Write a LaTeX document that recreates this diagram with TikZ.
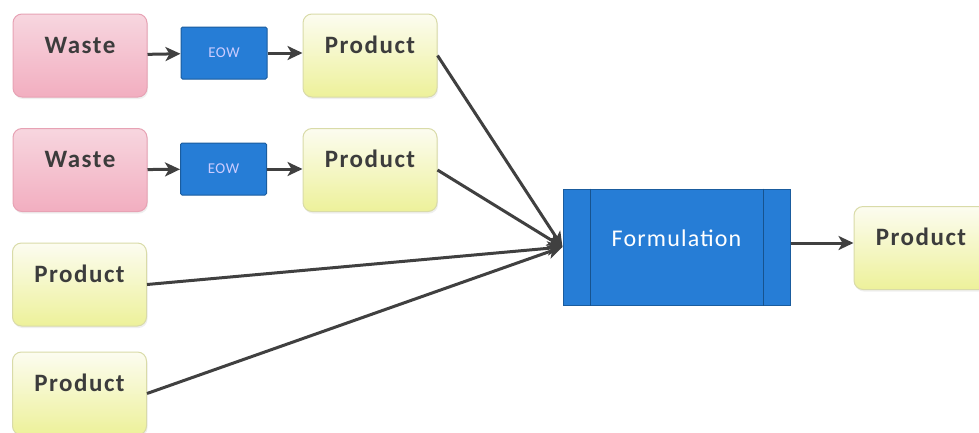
\documentclass[tikz,border=0pt]{standalone}
\usepackage{fontspec}
\setmainfont{Carlito}
\usetikzlibrary{arrows.meta,shadows}
\definecolor{ink}{HTML}{3C3C3C}
\definecolor{linegray}{HTML}{404040}
\definecolor{pinktop}{HTML}{F7D6DF}
\definecolor{pinkbot}{HTML}{F2AEC0}
\definecolor{pinkedge}{HTML}{E7A2B4}
\definecolor{yeltop}{HTML}{FCFCF0}
\definecolor{yelbot}{HTML}{EDF19A}
\definecolor{yeledge}{HTML}{D9DBA8}
\definecolor{bluefill}{HTML}{267DD6}
\definecolor{blueedge}{HTML}{1A5C9E}
\tikzset{
  box/.style={rounded corners=9pt, minimum width=134pt, inner sep=0pt,
    font=\fontsize{25}{28}\selectfont\bfseries\addfontfeature{LetterSpace=6}, text=ink, line width=1pt,
    text height=39pt, text depth=44pt,
    drop shadow={opacity=0.12, shadow xshift=1pt, shadow yshift=-2pt}},
  waste/.style={box, draw=pinkedge, top color=pinktop, bottom color=pinkbot},
  prod/.style={box, draw=yeledge, top color=yeltop, bottom color=yelbot},
  eow/.style={draw=blueedge, fill=bluefill, line width=1pt, rounded corners=1.5pt,
    minimum width=86pt, minimum height=52pt, inner sep=0pt,
    font=\fontsize{15}{17}\selectfont\addfontfeature{LetterSpace=4}, text=white!80!blue},
  proc/.style={draw=blueedge, fill=bluefill, line width=1pt,
    minimum width=227pt, inner sep=0pt, text height=57pt, text depth=59pt,
    font=\fontsize{24}{27}\selectfont, text=white},
  flow/.style={draw=linegray, line width=3pt,
    -{Stealth[length=15pt, width=14pt, inset=4pt]}}
}
\begin{document}
\begin{tikzpicture}[x=1pt, y=-1pt]
  \useasboundingbox (0,0) rectangle (979,432);
  \fill[white] (0,0) rectangle (979,432);

  % inputs
  \node[waste] (w1) at (80,55.5) {Waste};
  \node[eow]   (e1) at (224,53) {EOW};
  \node[prod]  (p1) at (370,55.5) {Product};

  \node[waste] (w2) at (80,170) {Waste};
  \node[eow]   (e2) at (223.5,169) {EOW};
  \node[prod]  (p2) at (370,170) {Product};

  \node[prod]  (p3) at (79.5,284.5) {Product};
  \node[prod]  (p4) at (79.5,393.5) {Product};

  % formulation step and output
  \node[proc]  (f) at (676.5,247) {\addfontfeature{LetterSpace=5}Formulation};
  \draw[blueedge!90!black, line width=1pt]
    ([xshift=28pt]f.north west) -- ([xshift=28pt]f.south west)
    ([xshift=-27pt]f.north east) -- ([xshift=-27pt]f.south east);
  \node[prod]  (p5) at (921,248) {Product};

  % connectors
  \draw[flow] (w1) -- (e1);
  \draw[flow] (e1) -- (p1.west |- e1);
  \draw[flow] (w2) -- (e2);
  \draw[flow] (e2) -- (p2.west |- e2);

  \coordinate (in) at (f.west);
  \draw[flow] (p1.east) -- (in);
  \draw[flow] (p2.east) -- (in);
  \draw[flow] (p3.east) -- (in);
  \draw[flow] (p4.east) -- (in);
  \draw[flow] (f.east |- 0,243) -- (p5.west |- 0,243);
\end{tikzpicture}
\end{document}
